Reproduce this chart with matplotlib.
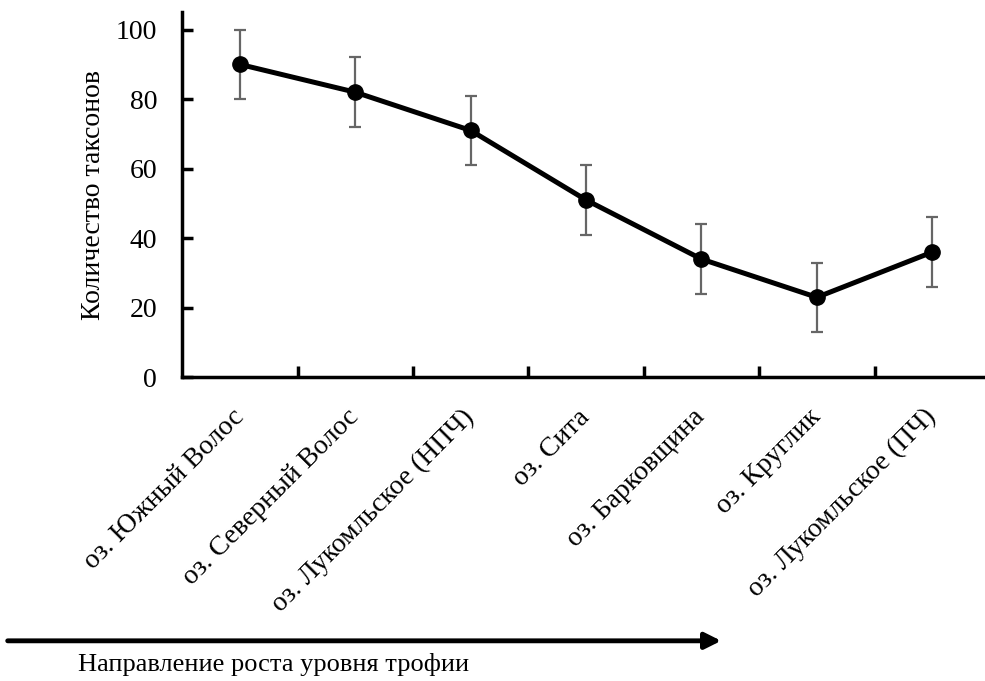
import matplotlib
matplotlib.use('Agg')
import matplotlib.pyplot as plt

plt.rcParams['font.family'] = ['Liberation Serif', 'DejaVu Serif']

# lakes, ordered by increasing trophic level
lakes = ['оз. Южный Волос', 'оз. Северный Волос', 'оз. Лукомльское (НПЧ)',
         'оз. Сита', 'оз. Барковщина', 'оз. Круглик', 'оз. Лукомльское (ПЧ)']
taxa = [90, 82, 71, 51, 34, 23, 36]
err = [10, 10, 10, 10, 10, 10, 10]

fig = plt.figure(figsize=(9.85, 6.81), dpi=100)
ax = fig.add_axes([0.185, 0.446, 0.82, 0.536])

x = list(range(len(lakes)))
ax.errorbar(x, taxa, yerr=err, fmt='none', ecolor='#666666', elinewidth=1.6,
            capsize=4.5, capthick=1.6, zorder=2)
ax.plot(x, taxa, color='black', lw=3.6, marker='o', ms=11, zorder=3)

ax.set_xlim(-0.5, 6.5)
ax.set_ylim(0, 105)
ax.set_yticks([0, 20, 40, 60, 80, 100])
ax.set_xticks([i + 0.5 for i in range(6)])
ax.set_xticklabels([])
ax.set_xticks(x, minor=True)
ax.set_xticklabels(lakes, minor=True, rotation=45, ha='right', va='center',
                   rotation_mode='anchor', fontsize=20)
ax.tick_params(axis='x', which='minor', length=0, pad=26)
ax.tick_params(axis='x', which='major', direction='in', length=8, width=2.5)
ax.tick_params(axis='y', direction='in', length=8, width=2.5, labelsize=20, pad=18)

for s in ['top', 'right']:
    ax.spines[s].set_visible(False)
for s in ['left', 'bottom']:
    ax.spines[s].set_linewidth(2.5)

ax.set_ylabel('Количество таксонов', fontsize=20, labelpad=7)

# arrow below the category labels
fig.add_artist(matplotlib.patches.FancyArrowPatch(
    (0.005, 0.059), (0.735, 0.059), transform=fig.transFigure,
    arrowstyle='-|>', mutation_scale=24, lw=3.5, color='black'))
fig.text(0.079, 0.024, 'Направление роста уровня трофии', fontsize=19, va='center')

fig.savefig('out.png', dpi=100)
